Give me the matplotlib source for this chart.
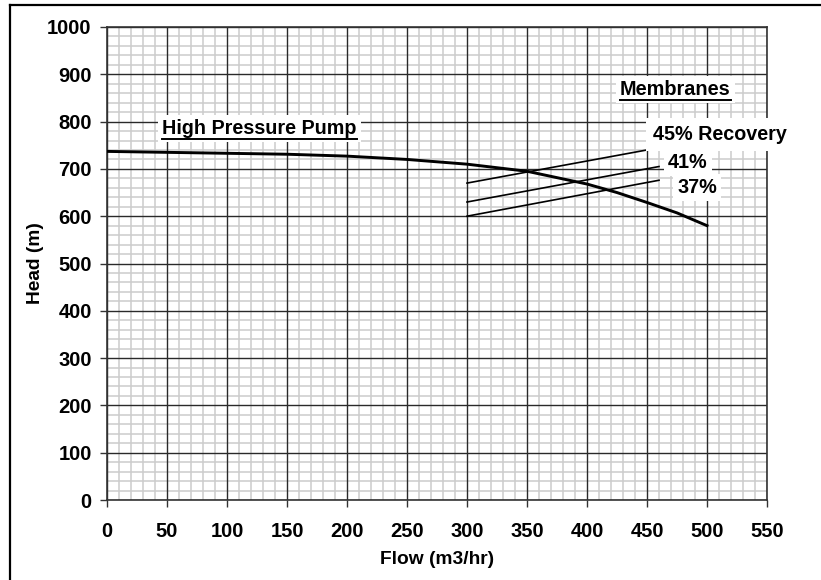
import matplotlib
matplotlib.use("Agg")
import matplotlib.pyplot as plt
from matplotlib.lines import Line2D
import numpy as np

plt.rcParams['font.family'] = ['Liberation Sans', 'DejaVu Sans']
plt.rcParams['font.weight'] = 'bold'

# Pump curve
pump_flow = [0, 25, 50, 100, 150, 200, 250, 300, 350, 400, 425, 450, 475, 500]
pump_head = [737, 736, 735, 733, 731, 727, 720, 710, 695, 668, 650, 629, 607, 580]

# Membrane system curves (start, end)
mem_labels = ["45% Recovery", "41%", "37%"]
mem_flow = [[300, 452], [300, 460], [300, 460]]
mem_head = [[670, 741], [630, 705], [600, 676]]

xticks = list(range(0, 551, 50))
yticks = list(range(0, 1001, 100))

fig = plt.figure(figsize=(8.21, 5.80), dpi=100)
ax = fig.add_axes([107/821, 1-500/580, (767-107)/821, (500-27)/580])
ax.set_xlim(0, 550)
ax.set_ylim(0, 1000)
ax.set_xticks(xticks)
ax.set_yticks(yticks)
ax.set_xticks([v for v in range(0, 551, 10) if v % 50], minor=True)
ax.set_yticks([v for v in range(0, 1001, 20) if v % 100], minor=True)
ax.grid(which='minor', color='#cccccc', linewidth=1.1)
ax.set_axisbelow(True)
for v in xticks:
    ax.axvline(v, color='#2a2a2a', linewidth=1.0, zorder=1)
for v in yticks:
    ax.axhline(v, color='#2a2a2a', linewidth=1.0, zorder=1)
ax.tick_params(which='minor', length=0)
ax.tick_params(which='major', length=5, width=1, color='#333333', labelsize=14.5)
ax.tick_params(axis='x', pad=11)
ax.tick_params(axis='y', pad=6)
for lab in ax.get_xticklabels() + ax.get_yticklabels():
    lab.set_fontweight('bold')
for s in ax.spines.values():
    s.set_color('#333333')
    s.set_linewidth(1.2)

ax.plot(pump_flow, pump_head, color='black', linewidth=2.1, zorder=3)
for f, h in zip(mem_flow, mem_head):
    ax.plot(f, h, color='black', linewidth=1.2, zorder=3)

ax.set_xlabel("Flow (m3/hr)", fontsize=13.75, fontweight='bold', labelpad=7)
ax.set_ylabel("Head (m)", fontsize=13.75, fontweight='bold', labelpad=2)

bb = dict(facecolor='white', edgecolor='none', pad=3)
t1 = ax.text(127, 786, "High Pressure Pump", fontsize=14.2, fontweight='bold',
             ha='center', va='center', bbox=bb, zorder=5)
t2 = ax.text(473.5, 868, "Membranes", fontsize=14.3, fontweight='bold',
             ha='center', va='center', bbox=bb, zorder=5)
ax.text(510.6, 772, mem_labels[0], fontsize=14.2, fontweight='bold',
        ha='center', va='center', bbox=dict(facecolor='white', edgecolor='none', pad=5), zorder=5)
ax.text(484, 714, mem_labels[1], fontsize=14.2, fontweight='bold',
        ha='center', va='center', bbox=bb, zorder=5)
ax.text(492, 661, mem_labels[2], fontsize=14.2, fontweight='bold',
        ha='center', va='center', bbox=bb, zorder=5)

# underline labels
fig.canvas.draw()
r = fig.canvas.get_renderer()
for t in (t1, t2):
    ext = t.get_window_extent(renderer=r)
    x0, x1 = ext.x0 / fig.bbox.width, ext.x1 / fig.bbox.width
    y = (ext.y0 - 1) / fig.bbox.height
    fig.add_artist(Line2D([x0, x1], [y, y], color='black', linewidth=1.4, zorder=6))

# outer border (left and top)
fig.add_artist(Line2D([10/821, 10/821], [0, 1-5/580], color='black', linewidth=1.6))
fig.add_artist(Line2D([10/821, 1], [1-5/580, 1-5/580], color='black', linewidth=1.6))

fig.savefig("out.png", dpi=100)
